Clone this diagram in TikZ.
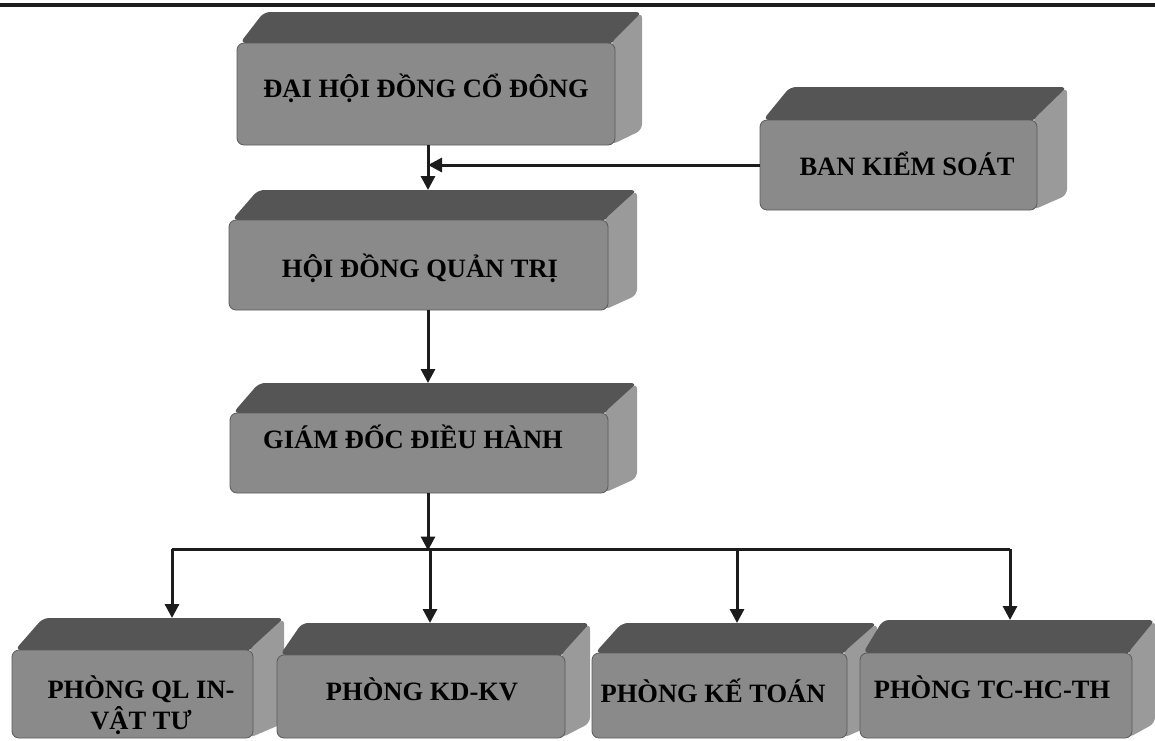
\documentclass[tikz,border=0pt]{standalone}
\usepackage{fontspec}
\setmainfont{Liberation Serif}
\usetikzlibrary{arrows.meta}
\definecolor{topc}{HTML}{555555}
\definecolor{frontc}{HTML}{8A8A8A}
\definecolor{sidec}{HTML}{9A9A9A}
\definecolor{edgec}{HTML}{5A5A5A}
\definecolor{linec}{HTML}{1C1C1C}
\tikzset{
  frontface/.style={draw=edgec, fill=frontc, rounded corners=7pt, inner sep=0pt, line width=0.8pt},
  topface/.style={fill=topc, rounded corners=6pt},
  sideface/.style={fill=sidec, rounded corners=6pt},
  lbl/.style={font=\fontsize{26.5}{31}\selectfont\bfseries, text=black, inner sep=0pt, align=center},
  conn/.style={draw=linec, line width=3pt},
  arr/.style={conn, -{Triangle[width=14pt,length=14pt]}},
}
% name, x1, y1, x2, y2, dx, dy
\newcommand{\threedbox}[7]{%
  \fill[topface] (#2+3,#3) -- (#2+#6,#3-#7) -- (#4+#6,#3-#7) -- (#4,#3) -- cycle;
  \fill[sideface] (#4-4,#3) -- (#4+#6,#3-#7) -- (#4+#6,#5-15) -- (#4-4,#5) -- cycle;
  \node[frontface, minimum width={#4-#2}, minimum height={#5-#3}] (#1) at ({(#2+#4)/2},{(#3+#5)/2}) {};
  \coordinate (#1-back) at ({(#2+#4)/2+#6},{#3-#7});
}
\begin{document}
\begin{tikzpicture}[x=1pt,y=-1pt]
\useasboundingbox (0,0) rectangle (1155,740);
% top rule
\draw[draw=linec, line width=3.5pt] (0,5) -- (1155,5);

% boxes
\threedbox{dh}{237}{43}{615}{145}{27}{31}
\threedbox{bks}{760}{120}{1037}{210}{30}{33}
\threedbox{hd}{229}{220}{608}{310}{29}{30}
\threedbox{gd}{230}{413}{608}{493}{29}{30}
\threedbox{ql}{12}{650}{253}{738}{31}{32}
\threedbox{kd}{277}{655}{565}{738}{25}{32}
\threedbox{kt}{592}{653}{847}{738}{30}{30}
\threedbox{tc}{860}{653}{1132}{738}{23}{33}

% labels
\node[lbl, anchor=base] (tdh) at (426,97) {ĐẠI HỘI ĐỒNG CỔ ĐÔNG};
\node[lbl, anchor=base] (tbks) at (907,175) {BAN KIỂM SOÁT};
\node[lbl, anchor=base] (thd) at (420,277) {HỘI ĐỒNG QUẢN TRỊ};
\node[lbl, anchor=base] (tgd) at (413,448) {GIÁM ĐỐC ĐIỀU HÀNH};
\node[lbl] (tql) at (141,705) {PHÒNG QL IN-\\VẬT TƯ};
\node[lbl, anchor=base] (tkd) at (422,700) {PHÒNG KD-KV};
\node[lbl, anchor=base] (tkt) at (713,702) {PHÒNG KẾ TOÁN};
\node[lbl, anchor=base] (ttc) at (992,698) {PHÒNG TC-HC-TH};

% connectors
\coordinate (spine) at (428,0);
\coordinate (bus) at (428,549);
\coordinate (d1) at (172,549);
\coordinate (d2) at (430,549);
\coordinate (d3) at (737,549);
\coordinate (d4) at (1010,549);

\draw[arr] (dh.south -| spine) -- (spine |- hd-back);
\draw[arr] (bks.west) -- (bks.west -| spine);
\draw[arr] (hd.south -| spine) -- (spine |- gd-back);
\draw[arr] (gd.south -| spine) -- ([yshift=-1.5pt]bus);
\draw[conn] (d1) -- (d4);
\draw[arr] (d1) -- (d1 |- ql-back);
\draw[arr] (d2) -- (d2 |- kd-back);
\draw[arr] (d3) -- (d3 |- kt-back);
\draw[arr] (d4) -- (d4 |- tc-back);
\end{tikzpicture}
\end{document}
